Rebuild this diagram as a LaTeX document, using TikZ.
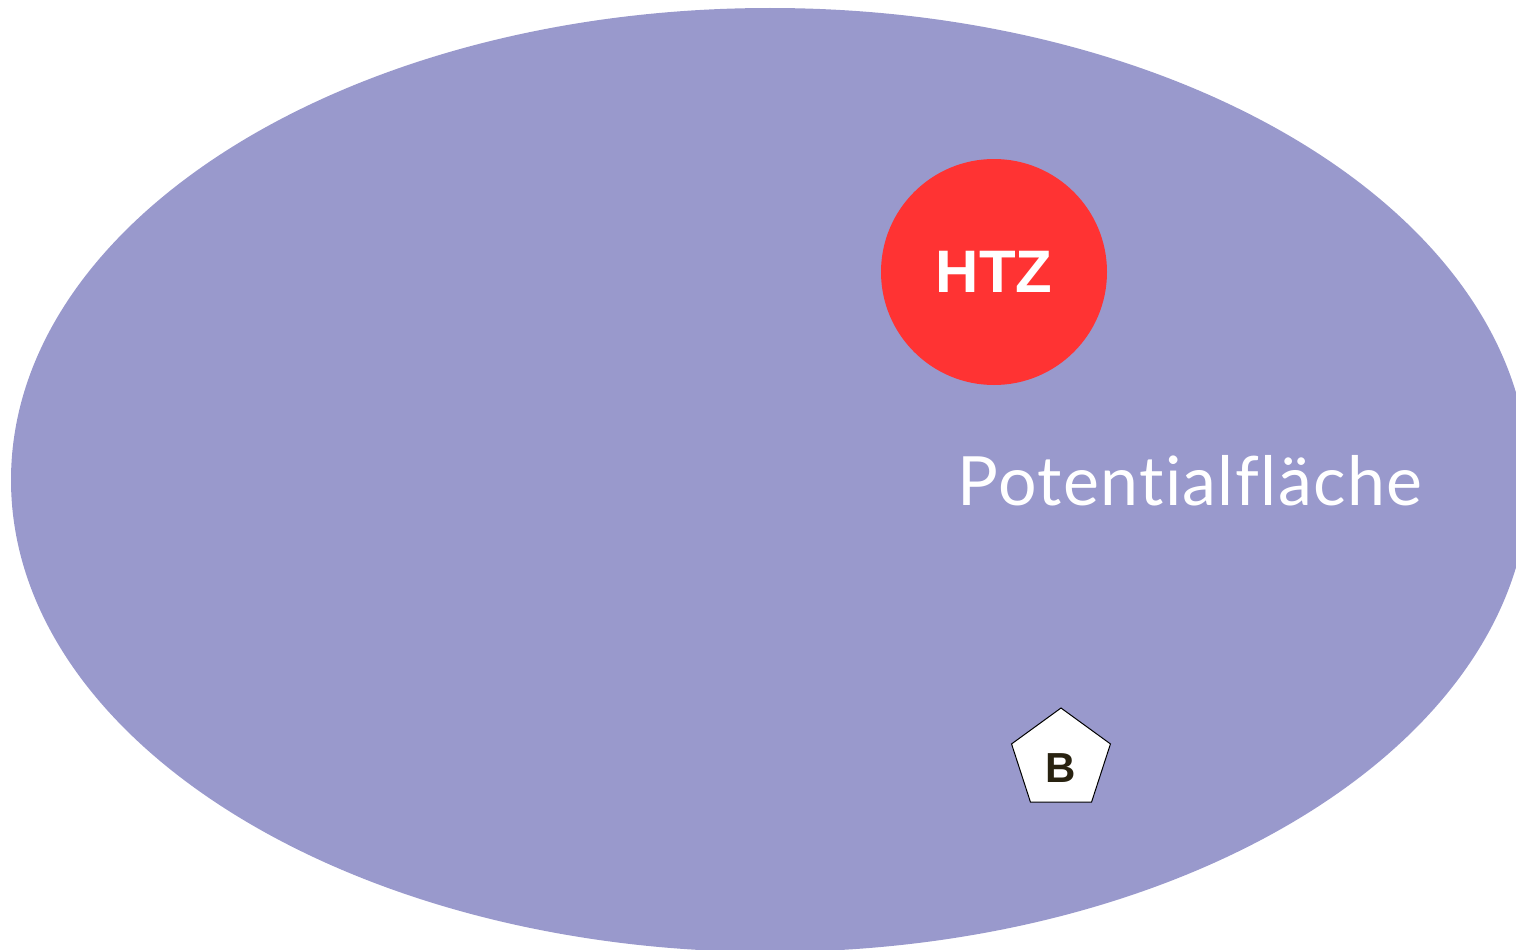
\documentclass[tikz,border=0pt]{standalone}
\usepackage{fontspec}
\setmainfont{Liberation Sans}
\newfontfamily\potfont[Ligatures=NoCommon, LetterSpace=2]{Lato}
\usetikzlibrary{shapes.geometric}
\definecolor{flaeche}{RGB}{153,153,204}
\definecolor{htzrot}{RGB}{255,51,51}
\definecolor{bdunkel}{RGB}{40,34,16}
\begin{document}
\begin{tikzpicture}[x=1pt,y=-1pt]
\useasboundingbox (0,0) rectangle (1516,950);
\coordinate (m) at (770,480);
\coordinate (h) at (994,272);
\coordinate (b) at (1061,760);
\fill[flaeche] (m) ellipse (759 and 472);
\node[circle, fill=htzrot, minimum size=226pt, inner sep=0pt, text=white, font=\fontsize{60}{60}\selectfont\bfseries] (htz) at (h) {HTZ};
\node[anchor=base, text=white, font=\potfont\fontsize{68}{68}\selectfont] (pot) at (1190,505) {Potentialfläche};
\node[regular polygon, regular polygon sides=5, draw=black, line width=1pt, fill=white, minimum size=104pt, inner sep=0pt, text=bdunkel, font=\fontsize{42}{42}\selectfont\bfseries] (bb) at (b) {\raisebox{-22pt}[0pt][0pt]{B}};
\end{tikzpicture}
\end{document}
